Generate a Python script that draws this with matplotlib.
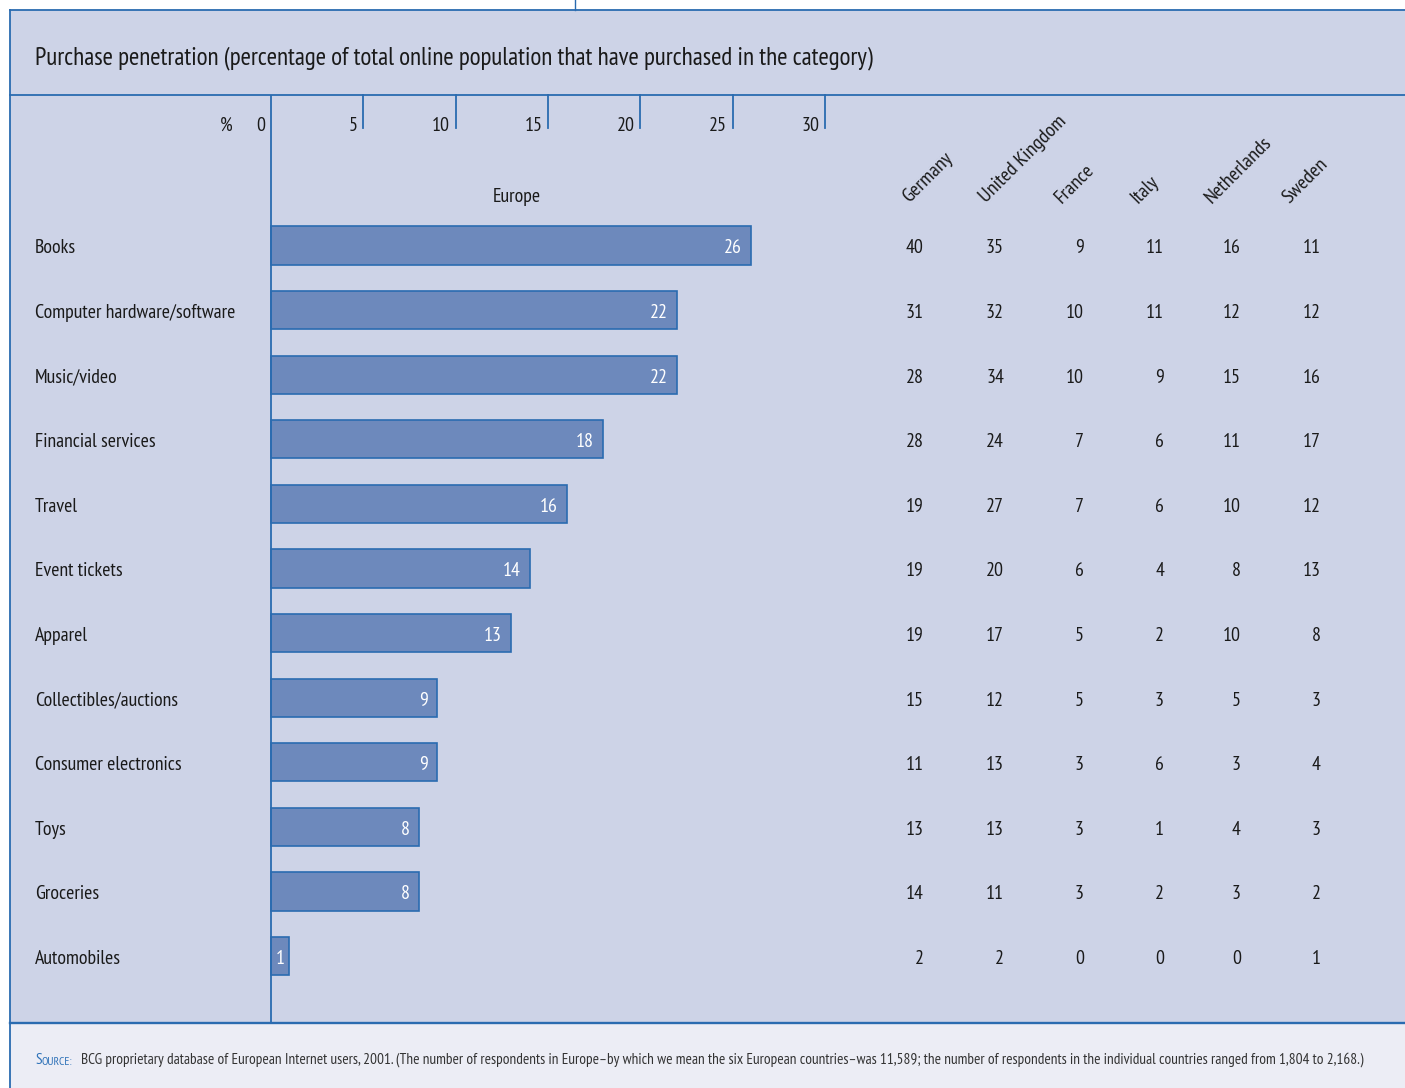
import matplotlib
matplotlib.use("Agg")
import matplotlib.pyplot as plt
from matplotlib import font_manager
from matplotlib.transforms import blended_transform_factory
from matplotlib.patches import Rectangle

names = {f.name for f in font_manager.fontManager.ttflist}
FONT = next((n for n in ["PT Sans Narrow", "IBM Plex Sans Condensed", "Liberation Sans Narrow"] if n in names),
            "DejaVu Sans")
plt.rcParams["font.family"] = [FONT, "DejaVu Sans"]

categories = ["Books", "Computer hardware/software", "Music/video", "Financial services",
              "Travel", "Event tickets", "Apparel", "Collectibles/auctions",
              "Consumer electronics", "Toys", "Groceries", "Automobiles"]
europe = [26, 22, 22, 18, 16, 14, 13, 9, 9, 8, 8, 1]
countries = ["Germany", "United Kingdom", "France", "Italy", "Netherlands", "Sweden"]
germany = [40, 31, 28, 28, 19, 19, 19, 15, 11, 13, 14, 2]
uk = [35, 32, 34, 24, 27, 20, 17, 12, 13, 13, 11, 2]
france = [9, 10, 10, 7, 7, 6, 5, 5, 3, 3, 3, 0]
italy = [11, 11, 9, 6, 6, 4, 2, 3, 6, 1, 2, 0]
netherlands = [16, 12, 15, 11, 10, 8, 10, 5, 3, 4, 3, 0]
sweden = [11, 12, 16, 17, 12, 13, 8, 3, 4, 3, 2, 1]
country_values = [germany, uk, france, italy, netherlands, sweden]
ticks = [0, 5, 10, 15, 20, 25, 30]

BG = "#cdd3e7"
FOOT = "#ecedf5"
LINE = "#2a6bb0"
BAR = "#6d89bc"
TXT = "#1a1a1a"
FS = 14.3

W, H = 1405, 1088
fig = plt.figure(figsize=(W / 100, H / 100), dpi=100)
fig.patch.set_facecolor("white")

# background axes in pixel coordinates for the frame
bg = fig.add_axes([0, 0, 1, 1])
bg.set_xlim(0, W)
bg.set_ylim(H, 0)
bg.axis("off")
bg.add_patch(Rectangle((10, 10), W - 10, 1013, facecolor=BG, edgecolor="none"))
bg.add_patch(Rectangle((10, 1023), W - 10, H - 1023, facecolor=FOOT, edgecolor="none"))
lw = 1.3
bg.plot([575, 575], [0, 10], color=LINE, lw=1)
bg.plot([10, W], [10, 10], color=LINE, lw=lw)
bg.plot([10, 10], [10, H], color=LINE, lw=lw)
bg.plot([10, W], [95, 95], color=LINE, lw=lw)
bg.plot([10, W], [1023, 1023], color=LINE, lw=lw + 0.4)

bg.text(35, 58, "Purchase penetration (percentage of total online population that have purchased in the category)",
        fontsize=18, color=TXT, ha="left", va="center")
src = bg.text(35, 1060, "S", fontsize=11, color="#2e72b8", ha="left", va="center")
bg.annotate("OURCE:", xy=(1, 0), xycoords=src, xytext=(0.3, 0), textcoords="offset points",
            fontsize=8.5, color="#2e72b8", ha="left", va="bottom")
bg.text(81, 1060, "BCG proprietary database of European Internet users, 2001. (The number of respondents in Europe\u2013by which we mean "
        "the six European countries\u2013was 11,589; the number of respondents in the individual countries ranged from 1,804 to 2,168.)",
        fontsize=10.95, color="#333333", ha="left", va="center")

# bar axes: x=0 at px 271, 18.47 px per unit; rows spaced 64.6 px from 245
PX = 18.47
x0 = 271
ax = fig.add_axes([10 / W, (H - 1023) / H, (W - 10) / W, 928 / H])
ax.set_xlim(-(x0 - 10) / PX, (W - x0) / PX)
row0, step = 245.5, 64.6
ax.set_ylim((1023 - row0) / step, (95 - row0) / step)
ax.axis("off")
dy = 0.045  # text sits slightly below the bar centre

rows = list(range(len(categories)))
ax.barh(rows, europe, height=0.59, color=BAR, edgecolor=LINE, linewidth=1.2, zorder=3)
ax.axvline(0, color=LINE, lw=1.3, zorder=4)

xt = ax.get_xaxis_transform()
for t in ticks[1:]:
    ax.plot([t, t], [1, 1 - 33 / 928], transform=xt, color=LINE, lw=1.3, clip_on=False)
for t in ticks:
    ax.text(t - 0.3, 1 - 36 / 928, str(t), transform=xt, ha="right", va="baseline",
            fontsize=FS, color=TXT)
ax.text(-2.1, 1 - 36 / 928, "%", transform=xt, ha="right", va="baseline", fontsize=FS, color=TXT)
ax.text(13.3, 1 - 102 / 928, "Europe", transform=xt, ha="center", va="center", fontsize=FS, color=TXT)

for i, (cat, v) in enumerate(zip(categories, europe)):
    ax.text(-(x0 - 35) / PX, i + dy, cat, ha="left", va="center", fontsize=FS, color=TXT)
    if v < 2:
        ax.text(v / 2, i + dy, str(v), ha="center", va="center", fontsize=FS, color="white", zorder=5)
    else:
        ax.text(v - 0.5, i + dy, str(v), ha="right", va="center", fontsize=FS, color="white", zorder=5)

# country columns, positioned in pixels horizontally
ct = blended_transform_factory(bg.transData, ax.transData)
col_right = [924, 1004, 1084, 1164, 1241, 1321]
head_anchor = [(909, 203), (986, 203), (1062, 204), (1138, 204), (1212, 204), (1289, 204)]
for name, vals, xr, (hx, hy) in zip(countries, country_values, col_right, head_anchor):
    bg.text(hx, hy, name, rotation=45, rotation_mode="anchor", ha="left", va="baseline",
            fontsize=FS + 0.4, color=TXT)
    for i, v in enumerate(vals):
        ax.text(xr, i + dy, str(v), transform=ct, ha="right", va="center", fontsize=FS, color=TXT)

fig.savefig("out.png", dpi=100, facecolor=fig.get_facecolor())
